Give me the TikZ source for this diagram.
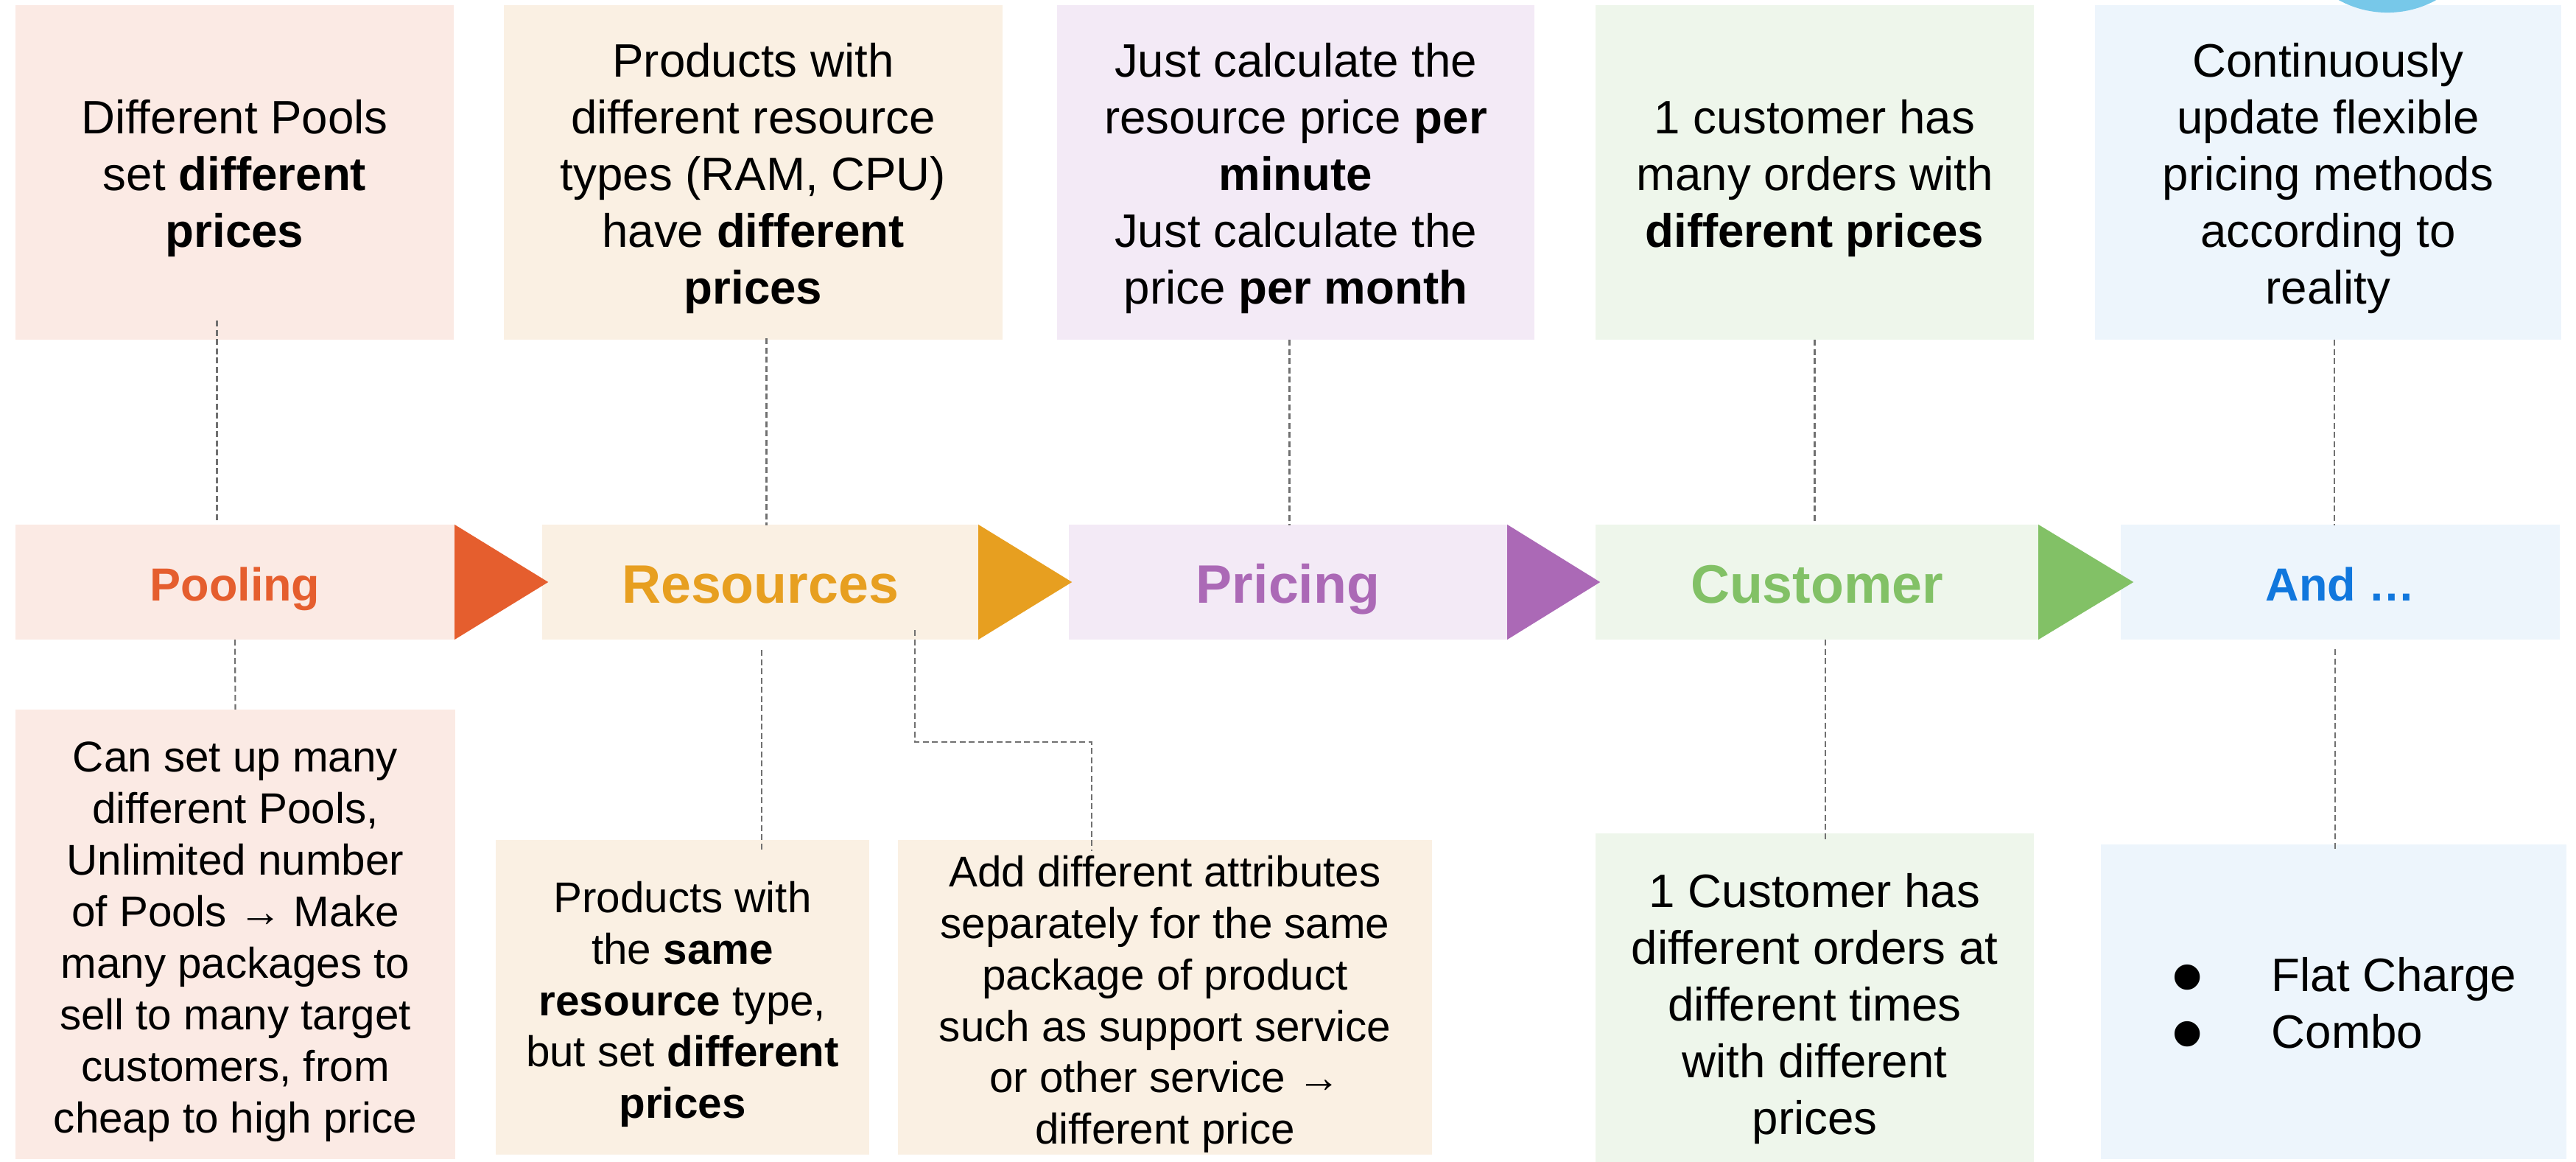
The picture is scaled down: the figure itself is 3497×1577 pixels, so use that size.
\documentclass[tikz,border=0pt]{standalone}
\usepackage{fontspec}
\setmainfont{Liberation Sans}

\definecolor{poolfill}{HTML}{FBEAE4}
\definecolor{poolc}{HTML}{E55E2E}
\definecolor{resfill}{HTML}{FAF0E3}
\definecolor{resc}{HTML}{E79F20}
\definecolor{pricefill}{HTML}{F3EAF6}
\definecolor{pricec}{HTML}{AB69B6}
\definecolor{custfill}{HTML}{EEF6EB}
\definecolor{custc}{HTML}{82C166}
\definecolor{andfill}{HTML}{EDF5FC}
\definecolor{andc}{HTML}{1177DD}
\definecolor{dotblue}{HTML}{77C8E9}
\definecolor{linkgray}{HTML}{707070}

\newcommand\txttop{\fontsize{18.1}{21.9}\selectfont}
\newcommand\txtlow{\fontsize{16.6}{19.9}\selectfont}
\newcommand\lblbig{\fontsize{20.9}{24}\selectfont\bfseries}
\newcommand\lblsmall{\fontsize{17.9}{22}\selectfont\bfseries}
\newcommand\capstrut[1][0.79cm]{\rule{0pt}{#1}}
\newcommand\descstrut[1][0.3cm]{\rule[-#1]{0pt}{#1}}
\newcommand\bigdot{\makebox[0.3cm]{\smash{\raisebox{-0.23cm}{\fontsize{36}{36}\selectfont •}}}}

\tikzset{
  card/.style={inner sep=0pt, outer sep=0pt, align=center},
  bar/.style={card, minimum height=1.56cm, text depth=0pt},
  link/.style={draw=linkgray, line width=0.6pt, dash pattern=on 0.08cm off 0.045cm},
}

\begin{document}
\begin{tikzpicture}[x=0.01cm,y=-0.01cm]
\useasboundingbox (0,0) rectangle (3497,1577);

% notes above
\node[card, fill=poolfill, minimum width=5.95cm, minimum height=4.54cm, font=\txttop] (T1) at (318.5,234)
  {\capstrut Different Pools\\set \textbf{different}\\\textbf{prices}\descstrut};
\node[card, fill=resfill, minimum width=6.77cm, minimum height=4.54cm, font=\txttop] (T2) at (1022.5,234)
  {\capstrut Products with\\different resource\\types (RAM, CPU)\\have \textbf{different}\\\textbf{prices}\descstrut};
\node[card, fill=pricefill, minimum width=6.48cm, minimum height=4.54cm, font=\txttop] (T3) at (1759,234)
  {\capstrut Just calculate the\\resource price \textbf{per}\\\textbf{minute}\\Just calculate the\\price \textbf{per month}\descstrut};
\node[card, fill=custfill, minimum width=5.95cm, minimum height=4.54cm, font=\txttop] (T4) at (2463.5,234)
  {\capstrut 1 customer has\\many orders with\\\textbf{different prices}\descstrut};
\node[card, fill=andfill, minimum width=6.33cm, minimum height=4.54cm, font=\txttop] (T5) at (3160.5,234)
  {\capstrut Continuously\\update flexible\\pricing methods\\according to\\reality\descstrut};

% the flow
\node[bar, fill=poolfill, minimum width=5.96cm, text=poolc, font=\lblsmall, text height=0.5cm] (B1) at (319,790) {Pooling};
\node[bar, fill=resfill, minimum width=5.92cm, text=resc, font=\lblbig, text height=0.56cm] (B2) at (1032,790) {Resources};
\node[bar, fill=pricefill, minimum width=5.95cm, text=pricec, font=\lblbig, text height=0.56cm] (B3) at (1748.5,790) {Pricing};
\node[bar, fill=custfill, minimum width=6.01cm, text=custc, font=\lblbig, text height=0.56cm] (B4) at (2466.5,790) {Customer};
\node[bar, fill=andfill, minimum width=5.96cm, text=andc, font=\lblsmall, text height=0.5cm] (B5) at (3177,790) {And \dots};

\fill[poolc] (B1.north east) -- ([xshift=1.27cm]B1.east) -- (B1.south east) -- cycle;
\fill[resc] (B2.north east) -- ([xshift=1.27cm]B2.east) -- (B2.south east) -- cycle;
\fill[pricec] (B3.north east) -- ([xshift=1.26cm]B3.east) -- (B3.south east) -- cycle;
\fill[custc] (B4.north east) -- ([xshift=1.29cm]B4.east) -- (B4.south east) -- cycle;

% notes below
\node[card, fill=poolfill, minimum width=5.97cm, minimum height=6.10cm, font=\txtlow] (D1) at (319.5,1268)
  {\capstrut Can set up many\\different Pools,\\Unlimited number\\of Pools → Make\\many packages to\\sell to many target\\customers, from\\cheap to high price\descstrut};
\node[card, fill=resfill, minimum width=5.07cm, minimum height=4.27cm, font=\txtlow] (D2) at (926.5,1353.5)
  {\capstrut Products with\\the \textbf{same}\\\textbf{resource} type,\\but set \textbf{different}\\\textbf{prices}\descstrut};
\node[card, fill=resfill, minimum width=7.25cm, minimum height=4.27cm, font=\txtlow] (D3) at (1581.5,1353.5)
  {\capstrut[0.62cm]Add different attributes\\separately for the same\\package of product\\such as support service\\or other service →\\different price\descstrut[0.13cm]};
\node[card, fill=custfill, minimum width=5.95cm, minimum height=4.60cm, font=\txttop] (D4) at (2463.5,1361)
  {\capstrut 1 Customer has\\different orders at\\different times\\with different\\prices\descstrut};
\node[card, fill=andfill, minimum width=6.32cm, minimum height=4.27cm, font=\txttop, align=left] (D5) at (3168,1359.5)
  {\capstrut\hspace{0.35cm}\bigdot\hspace{0.99cm}Flat Charge\\\hspace{0.35cm}\bigdot\hspace{0.99cm}Combo\descstrut};

% dashed links
\draw[link] ([shift={(-24,-26)}]T1.south) -- ([shift={(-24.5,-4)}]B1.north);
\draw[link] ([shift={(18,-2)}]T2.south) -- ([shift={(8.5,1)}]B2.north);
\draw[link] ([shift={(-8.5,0)}]T3.south) -- ([shift={(2,1)}]B3.north);
\draw[link] ([shift={(0,0)}]T4.south) -- ([shift={(-3,-5)}]B4.north);
\draw[link] ([shift={(8.5,0)}]T5.south) -- ([shift={(-8,1)}]B5.north);

\draw[link] (B1.south) -- (D1.north);
\draw[link] ([shift={(2,14)}]B2.south) -- ([shift={(107.5,15)}]D2.north);
\draw[link] ([shift={(210,-13)}]B2.south) -- ++(0,152) -| ([shift={(-99.5,15)}]D3.north);
\draw[link] ([shift={(11.5,0)}]B4.south) -- ([shift={(14.5,9)}]D4.north);
\draw[link] ([shift={(-7,13)}]B5.south) -- ([shift={(2,8)}]D5.north);

\begin{scope}
\clip (0,0) rectangle (3497,1577);
\fill[dotblue] (3241,-120) circle[radius=1.37cm];
\end{scope}
\end{tikzpicture}
\end{document}
